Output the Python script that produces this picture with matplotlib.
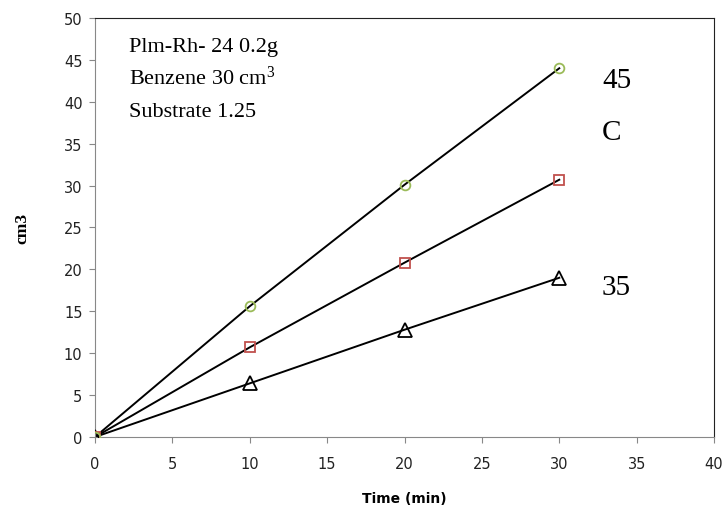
import numpy as np
import matplotlib.pyplot as plt

time_min = [0, 10, 20, 30]
vol_45 = [0, 15.6, 30.1, 44.0]
vol_40 = [0, 10.7, 20.8, 30.7]
vol_35 = [0, 6.4, 12.8, 19.0]

info_lines = ["Plm-Rh- 24 0.2g", "Benzene 30 cm$^3$", "Substrate 1.25"]

plt.rcParams['mathtext.fontset'] = 'custom'
plt.rcParams['mathtext.rm'] = 'Liberation Serif'
plt.rcParams['mathtext.it'] = 'Liberation Serif:italic'

fig = plt.figure(figsize=(7.23, 5.06), dpi=100)
ax = fig.add_axes([0.1314, 0.1344, 0.8562, 0.8281])

# black connecting lines first, markers on top
for ys in (vol_45, vol_40, vol_35):
    ax.plot(time_min, ys, color='black', lw=1.4, zorder=2)

ax.plot(time_min, vol_35, linestyle='none', marker='^', ms=10, mfc='none',
        mec='black', mew=1.3, zorder=3)
ax.plot(time_min, vol_40, linestyle='none', marker='s', ms=7, mfc='none',
        mec='#c0504d', mew=1.3, zorder=3)
ax.plot(time_min, vol_45, linestyle='none', marker='o', ms=7, mfc='none',
        mec='#9bbb59', mew=1.3, zorder=3)

ax.set_xlim(0, 40)
ax.set_ylim(0, 50)
ax.set_xticks(np.arange(0, 41, 5))
ax.set_yticks(np.arange(0, 51, 5))

for side in ('left', 'bottom'):
    ax.spines[side].set_color('#888888')
for side in ('top', 'right'):
    ax.spines[side].set_color('#222222')
ax.tick_params(direction='out', length=4, color='#888888', labelsize=10.5,
               labelcolor='#222222', pad=5)
ax.tick_params(axis='x', pad=10)

ax.set_xlabel('Time (min)', fontsize=10, fontweight='bold', labelpad=14)
ax.set_ylabel('cm3', fontsize=12.5, fontweight='bold', family='Liberation Serif',
              labelpad=24)

serif = 'Liberation Serif'
for i, line in enumerate(info_lines):
    ax.text(0.055, 0.92 - i * 0.077, line, transform=ax.transAxes,
            fontsize=16, family=serif, va='baseline', ha='left')

ax.text(0.819, 0.835, '45', transform=ax.transAxes, fontsize=21, family=serif,
        va='baseline')
ax.text(0.819, 0.71, 'C', transform=ax.transAxes, fontsize=21, family=serif,
        va='baseline')
ax.text(0.819, 0.342, '35', transform=ax.transAxes, fontsize=21, family=serif,
        va='baseline')

fig.savefig('out.png', dpi=100)
